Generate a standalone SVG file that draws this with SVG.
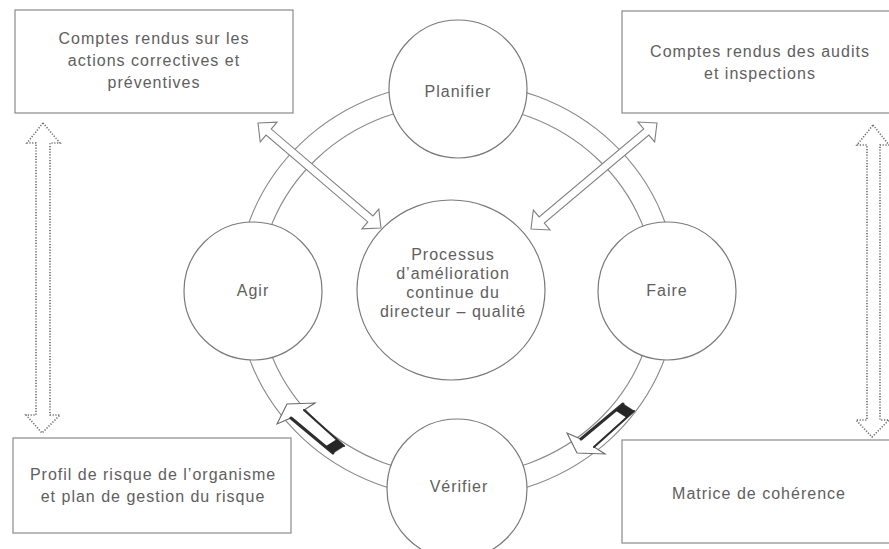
<svg xmlns="http://www.w3.org/2000/svg" width="889" height="549" viewBox="0 0 889 549">
  <style>
    .box { fill: #ffffff; stroke: #8a8a8a; stroke-width: 1.2; }
    .node { fill: #ffffff; stroke: #7a7a7a; stroke-width: 1.2; }
    .ring { fill: none; stroke: #8a8a8a; stroke-width: 1.1; }
    .hollow { fill: #ffffff; stroke: #808080; stroke-width: 1.1; stroke-linejoin: miter; }
    .dotted { fill: none; stroke: #6a6a6a; stroke-width: 1.6; stroke-dasharray: 1.2 1.6; }
    .block { fill: #ffffff; stroke: #6a6a6a; stroke-width: 1.1; stroke-linejoin: miter; }
    .edge { stroke: #2e2e2e; stroke-linecap: round; fill: none; }
    .band { fill: #262626; }
    text { font-family: "Liberation Sans", Arial, sans-serif; font-size: 16px; fill: #606060; letter-spacing: 1px; text-anchor: middle; }
  </style>

  <rect width="889" height="549" fill="#ffffff"/>

  <!-- cycle ring behind the four stage circles -->
  <g id="cycle-ring">
    <ellipse class="ring" cx="457" cy="290" rx="220" ry="208"/>
    <ellipse class="ring" cx="457" cy="290" rx="198" ry="186"/>
  </g>

  <!-- document boxes -->
  <g id="box-actions">
    <rect class="box" x="15" y="10" width="278" height="103"/>
    <text x="154" y="44">Comptes rendus sur les</text>
    <text x="154" y="66">actions correctives et</text>
    <text x="154" y="88">préventives</text>
  </g>
  <g id="box-audits">
    <rect class="box" x="622" y="11" width="272" height="102"/>
    <text x="760" y="57">Comptes rendus des audits</text>
    <text x="760" y="79">et inspections</text>
  </g>
  <g id="box-risque">
    <rect class="box" x="13" y="438" width="278" height="95"/>
    <text x="153" y="480">Profil de risque de l’organisme</text>
    <text x="153" y="502">et plan de gestion du risque</text>
  </g>
  <g id="box-matrice">
    <rect class="box" x="622" y="440" width="272" height="103"/>
    <text x="759" y="499">Matrice de cohérence</text>
  </g>

  <!-- stage circles -->
  <g id="node-planifier">
    <circle class="node" cx="458" cy="89" r="69"/>
    <text x="458" y="97">Planifier</text>
  </g>
  <g id="node-agir">
    <circle class="node" cx="253" cy="291" r="69"/>
    <text x="253" y="296">Agir</text>
  </g>
  <g id="node-faire">
    <circle class="node" cx="667" cy="291" r="69"/>
    <text x="667" y="296">Faire</text>
  </g>
  <g id="node-verifier">
    <circle class="node" cx="457" cy="489" r="70"/>
    <text x="459" y="492">Vérifier</text>
  </g>
  <g id="node-processus">
    <ellipse class="node" cx="451" cy="290" rx="94" ry="90"/>
    <text x="453" y="260">Processus</text>
    <text x="453" y="279">d’amélioration</text>
    <text x="453" y="298">continue du</text>
    <text x="453" y="317">directeur – qualité</text>
  </g>

  <g id="connectors">
    <!-- two-way exchanges between the report boxes and the central process -->
    <polygon class="hollow" points="258,123 277.09,122.20 271.25,129.05 372.95,215.87 378.79,209.02 381,228 361.91,228.80 367.75,221.95 266.05,135.13 260.21,141.98"/>
    <polygon class="hollow" points="657,123 637.92,122.06 643.72,128.95 539.14,216.93 533.34,210.04 531,229 550.08,229.94 544.28,223.05 648.86,135.07 654.66,141.96"/>

    <!-- dotted two-way links between top and bottom boxes -->
    <polygon class="dotted" points="43,123 60,143 50,143 50,415 60,415 42,433 26,415 36,415 36,143 27,143"/>
    <polygon class="dotted" points="873,125 889,145 880,145 880,420 889,420 872,437 856,420 867,420 867,145 857,145"/>

    <!-- cycle direction: Vérifier to Agir -->
    <polygon class="block" points="277,424 287,404 315,403 304,410 344,446 333,453 291,418"/>
    <line class="edge" x1="291" y1="418" x2="333" y2="453" stroke-width="3"/>
    <line class="edge" x1="304" y1="410" x2="344" y2="446" stroke-width="2"/>
    <polygon class="band" points="336.6,439.3 344,446 333,453 325.3,446.6"/>

    <!-- cycle direction: Faire to Vérifier -->
    <polygon class="block" points="567,433 577,453 605,454 594,447 634,411 623,404 581,439"/>
    <line class="edge" x1="581" y1="439" x2="623" y2="404" stroke-width="3"/>
    <line class="edge" x1="594" y1="447" x2="634" y2="411" stroke-width="2"/>
    <polygon class="band" points="626.6,417.7 634,411 623,404 615.3,410.4"/>
  </g>
</svg>
